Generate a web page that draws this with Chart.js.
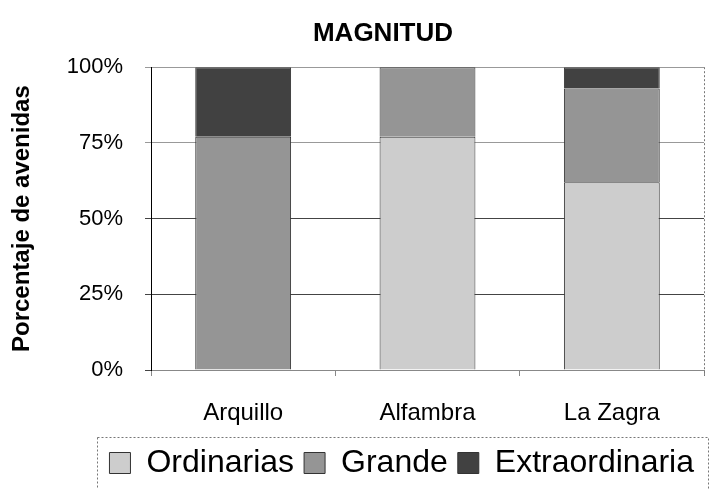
<!DOCTYPE html>
<html>
<head>
<meta charset="utf-8">
<script src="https://cdn.jsdelivr.net/npm/chart.js@4/dist/chart.umd.min.js"></script>
<style>
  html, body { margin: 0; padding: 0; background: #fff; }
  #wrap { width: 710px; height: 489px; }
</style>
</head>
<body>
<div id="wrap"><canvas id="chart"></canvas></div>
<script>
const categories = ['Arquillo', 'Alfambra', 'La Zagra'];
const ordinarias = [0, 77, 62];
const grande = [77, 23, 31];
const extraordinaria = [23, 0, 7];
const yTicks = [0, 25, 50, 75, 100];

// dotted frame around the legend, dotted right edge of the plot
const frames = {
  id: 'frames',
  afterDraw(chart) {
    const ctx = chart.ctx;
    const area = chart.chartArea;
    ctx.save();
    ctx.strokeStyle = '#777';
    ctx.lineWidth = 1;
    ctx.setLineDash([2, 2]);
    ctx.beginPath();
    ctx.moveTo(Math.round(area.right) + 0.5, area.top);
    ctx.lineTo(Math.round(area.right) + 0.5, area.bottom + 6);
    ctx.stroke();
    const lg = chart.legend;
    if (lg && lg.legendHitBoxes && lg.legendHitBoxes.length) {
      const x0 = Math.round(lg.legendHitBoxes[0].left - 12);
      const y0 = Math.round(lg.top);
      ctx.strokeRect(x0 + 0.5, y0 + 0.5, chart.width - x0 - 2, chart.height - y0 + 4);
    }
    ctx.restore();
  }
};

const font = 'Arial, "Liberation Sans", sans-serif';

new Chart(document.getElementById('chart'), {
  type: 'bar',
  data: {
    labels: categories,
    datasets: [
      { label: 'Ordinarias', data: ordinarias, backgroundColor: '#cdcdcd', borderColor: '#333', borderWidth: 1 },
      { label: 'Grande', data: grande, backgroundColor: '#959595', borderColor: '#333', borderWidth: 1 },
      { label: 'Extraordinaria', data: extraordinaria, backgroundColor: '#414141', borderColor: '#333', borderWidth: 1 }
    ]
  },
  options: {
    responsive: true,
    maintainAspectRatio: false,
    animation: false,
    datasets: { bar: { categoryPercentage: 1, barPercentage: 0.52 } },
    // left padding pushes the title centre right, as in the original
    layout: { padding: { left: 62, right: 6, top: 0, bottom: 0 } },
    plugins: {
      title: {
        display: true,
        text: 'MAGNITUD',
        color: '#000',
        font: { family: font, size: 26, weight: 'bold' },
        padding: { top: 18, bottom: 18 }
      },
      legend: {
        position: 'bottom',
        align: 'end',
        labels: {
          color: '#000',
          font: { family: font, size: 32 },
          boxWidth: 21,
          boxHeight: 21,
          padding: 10
        }
      },
      tooltip: { enabled: false }
    },
    scales: {
      x: {
        stacked: true,
        afterFit: axis => { axis.height = 67; },
        grid: { display: true, offset: true, drawOnChartArea: false, tickLength: 6, color: '#888' },
        border: { color: '#888', dash: [2, 2] },
        ticks: { color: '#000', font: { family: font, size: 24 }, padding: 23 }
      },
      y: {
        stacked: true,
        min: 0,
        max: 100,
        afterBuildTicks: axis => { axis.ticks = yTicks.map(v => ({ value: v })); },
        afterFit: axis => { axis.width = 89; },
        grid: {
          color: c => (c.tick && c.tick.value >= 75 ? '#999' : '#444'),
          lineWidth: 1,
          tickLength: 6
        },
        border: { color: '#000' },
        ticks: {
          color: '#000',
          font: { family: font, size: 22 },
          padding: 22,
          callback: v => v + '%'
        },
        title: {
          display: true,
          text: 'Porcentaje de avenidas',
          color: '#000',
          font: { family: font, size: 24, weight: 'bold' },
          padding: { top: -54, bottom: 0 }
        }
      }
    }
  },
  plugins: [frames]
});
</script>
</body>
</html>
